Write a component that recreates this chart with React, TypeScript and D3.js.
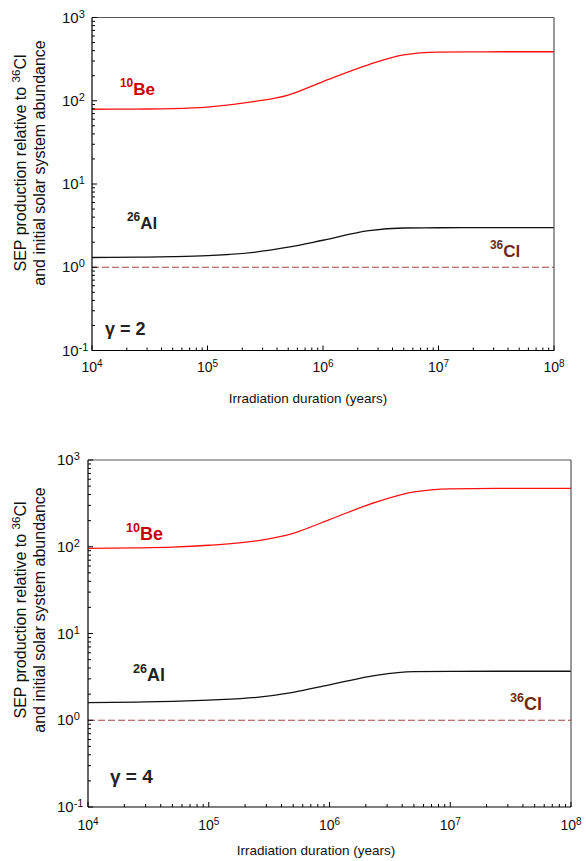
import React, { useEffect } from 'react';
import * as d3 from 'd3';

// Irradiation durations (years)
const durations = [1e4, 2.5e4, 5e4, 1e5, 2.5e5, 5e5, 1e6, 2.5e6, 5e6, 1e7, 2.5e7, 5e7, 1e8];

// gamma = 2
const be2 = [79, 79.5, 80.5, 84, 97.5, 117, 170, 272, 355, 383, 387, 388, 388];
const al2 = [1.31, 1.32, 1.34, 1.38, 1.51, 1.74, 2.11, 2.75, 2.96, 2.98, 2.99, 2.99, 2.99];
const cl2 = [1, 1, 1, 1, 1, 1, 1, 1, 1, 1, 1, 1, 1];

// gamma = 4
const be4 = [96, 97, 99, 104, 117, 143, 206, 331, 428, 465, 470, 471, 471];
const al4 = [1.6, 1.62, 1.65, 1.71, 1.84, 2.1, 2.56, 3.32, 3.63, 3.66, 3.67, 3.67, 3.67];
const cl4 = [1, 1, 1, 1, 1, 1, 1, 1, 1, 1, 1, 1, 1];

const xTickExps = [4, 5, 6, 7, 8];
const yTickExps = [-1, 0, 1, 2, 3];

const FONT = "'Liberation Sans', Arial, Helvetica, sans-serif";

type Box = { left: number; right: number; top: number; bottom: number };
type Lab = { x: number; y: number };

function minorTicks(exps: number[]) {
  const out: number[] = [];
  for (let i = 0; i < exps.length - 1; i++) {
    for (let k = 2; k <= 9; k++) out.push(k * Math.pow(10, exps[i]));
  }
  return out;
}

function Panel(props: {
  box: Box;
  be: number[];
  al: number[];
  cl: number[];
  gammaVal: string;
  yLabX: number;
  xLabDy: number;
  titleX: number;
  titleY: number;
  yTitleX1: number;
  yTitleX2: number;
  yTitleY: number;
  labFs: number;
  beLab: Lab;
  alLab: Lab;
  clLab: Lab;
  gLab: Lab;
}) {
  const { box } = props;
  const x = d3.scaleLog().domain([1e4, 1e8]).range([box.left, box.right]);
  const y = d3.scaleLog().domain([0.1, 1000]).range([box.bottom, box.top]);
  const line = d3
    .line<number>()
    .x((_, i) => x(durations[i]))
    .y((d) => y(d))
    .curve(d3.curveMonotoneX);

  const xMinor = minorTicks(xTickExps);
  const yMinor = minorTicks(yTickExps);
  const supFs = props.labFs * 0.7;

  return (
    <g>
      {/* data lines */}
      <path d={line(props.cl) || ''} fill="none" stroke="#a84444" strokeWidth={1.2} strokeDasharray="7,3" />
      <path d={line(props.al) || ''} fill="none" stroke="#111" strokeWidth={1.3} />
      <path d={line(props.be) || ''} fill="none" stroke="#ff1010" strokeWidth={1.3} />

      {/* frame */}
      <line x1={box.left} x2={box.right} y1={box.top} y2={box.top} stroke="#555" strokeWidth={1.2} />
      <line x1={box.right} x2={box.right} y1={box.top} y2={box.bottom} stroke="#555" strokeWidth={1.2} />
      <line x1={box.left} x2={box.left} y1={box.top} y2={box.bottom} stroke="#000" strokeWidth={1.2} />
      <line x1={box.left} x2={box.right} y1={box.bottom} y2={box.bottom} stroke="#000" strokeWidth={1.2} />

      {/* y ticks */}
      {yTickExps.map((e) => (
        <line key={'ym' + e} x1={box.left} x2={box.left + 5} y1={y(Math.pow(10, e))} y2={y(Math.pow(10, e))} stroke="#000" />
      ))}
      {yMinor.map((v) => (
        <line key={'yn' + v} x1={box.left} x2={box.left + 3} y1={y(v)} y2={y(v)} stroke="#000" />
      ))}
      {/* x ticks */}
      {xTickExps.map((e) => (
        <line key={'xm' + e} x1={x(Math.pow(10, e))} x2={x(Math.pow(10, e))} y1={box.bottom} y2={box.bottom - 5} stroke="#000" />
      ))}
      {xMinor.map((v) => (
        <line key={'xn' + v} x1={x(v)} x2={x(v)} y1={box.bottom} y2={box.bottom - 3} stroke="#000" />
      ))}

      {/* y tick labels */}
      {yTickExps.map((e) => (
        <text key={'yl' + e} x={props.yLabX} y={y(Math.pow(10, e)) + 5} fontSize={15} fontFamily={FONT} fill="#111">
          10
          <tspan fontSize={11} dy={-5}>{String(e)}</tspan>
        </text>
      ))}
      {/* x tick labels */}
      {xTickExps.map((e) => (
        <text key={'xl' + e} x={x(Math.pow(10, e))} y={box.bottom + props.xLabDy} fontSize={14} fontFamily={FONT} fill="#111" textAnchor="middle">
          10
          <tspan fontSize={10} dy={-5}>{String(e)}</tspan>
        </text>
      ))}

      {/* axis titles */}
      <text x={props.titleX} y={props.titleY} fontSize={13.5} fontFamily={FONT} fill="#111" textAnchor="middle">
        Irradiation duration (years)
      </text>
      <text transform={`translate(${props.yTitleX1},${props.yTitleY}) rotate(-90)`} fontSize={16} fontFamily={FONT} fill="#111" textAnchor="middle">
        SEP production relative to <tspan fontSize={11.5} dy={-6}>36</tspan>
        <tspan dy={6}>Cl</tspan>
      </text>
      <text transform={`translate(${props.yTitleX2},${props.yTitleY}) rotate(-90)`} fontSize={16} fontFamily={FONT} fill="#111" textAnchor="middle">
        and initial solar system abundance
      </text>

      {/* series labels */}
      <text x={props.beLab.x} y={props.beLab.y} fontFamily={FONT} fontWeight="bold" fill="#c80000" fontSize={props.labFs}>
        <tspan fontSize={supFs} dy={-8}>10</tspan>
        <tspan dy={8}>Be</tspan>
      </text>
      <text x={props.alLab.x} y={props.alLab.y} fontFamily={FONT} fontWeight="bold" fill="#222" fontSize={props.labFs}>
        <tspan fontSize={supFs} dy={-8}>26</tspan>
        <tspan dy={8}>Al</tspan>
      </text>
      <text x={props.clLab.x} y={props.clLab.y} fontFamily={FONT} fontWeight="bold" fill="#6e2a10" fontSize={props.labFs}>
        <tspan fontSize={supFs} dy={-8}>36</tspan>
        <tspan dy={8}>Cl</tspan>
      </text>
      <text x={props.gLab.x} y={props.gLab.y} fontFamily={FONT} fontWeight="bold" fill="#222" fontSize={props.labFs + 1}>
        {'γ = ' + props.gammaVal}
      </text>
    </g>
  );
}

export default function App() {
  useEffect(() => {
    document.body.style.margin = '0';
  }, []);
  return (
    <svg width={586} height={861} style={{ position: 'absolute', left: 0, top: 0, background: '#fff' }}>
      <Panel
        box={{ left: 92, right: 554, top: 17.5, bottom: 350.5 }}
        be={be2}
        al={al2}
        cl={cl2}
        gammaVal="2"
        yLabX={62}
        xLabDy={21.5}
        titleX={308}
        titleY={403}
        yTitleX1={26}
        yTitleX2={45}
        yTitleY={163}
        labFs={17}
        beLab={{ x: 120, y: 95 }}
        alLab={{ x: 127, y: 229 }}
        clLab={{ x: 490, y: 257 }}
        gLab={{ x: 105, y: 335 }}
      />
      <Panel
        box={{ left: 88, right: 571, top: 460, bottom: 807 }}
        be={be4}
        al={al4}
        cl={cl4}
        gammaVal="4"
        yLabX={57}
        xLabDy={23}
        titleX={316}
        titleY={855}
        yTitleX1={26}
        yTitleX2={45}
        yTitleY={610}
        labFs={18}
        beLab={{ x: 126, y: 540 }}
        alLab={{ x: 133, y: 681 }}
        clLab={{ x: 510, y: 710 }}
        gLab={{ x: 110, y: 783 }}
      />
    </svg>
  );
}
